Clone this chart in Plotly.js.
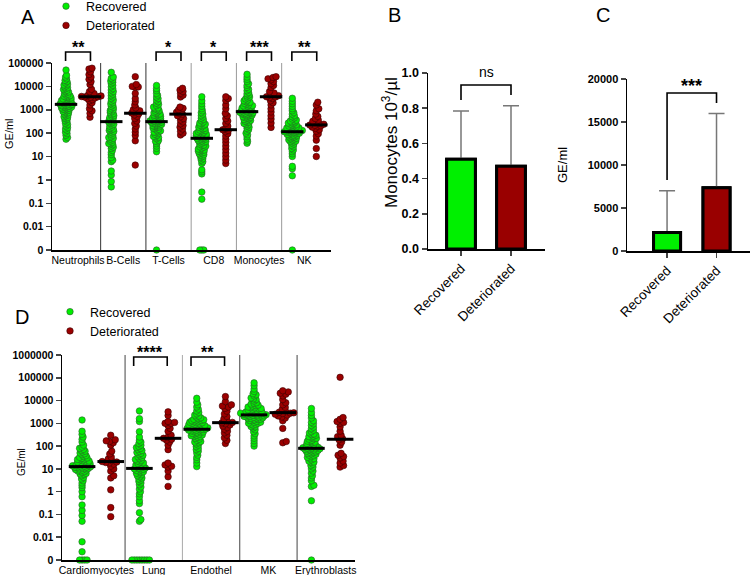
<!DOCTYPE html>
<html><head><meta charset="utf-8">
<script src="https://cdn.plot.ly/plotly-3.0.1.min.js"></script>
<style>html,body{margin:0;padding:0;background:#fff}#chart{width:750px;height:575px}</style>
</head><body><div id="chart"></div>
<script>
// ---------------- DATA ----------------
const seriesNames = ['Recovered', 'Deteriorated'];
const catsA = ['Neutrophils', 'B-Cells', 'T-Cells', 'CD8', 'Monocytes', 'NK'];
const catsD = ['Cardiomyocytes', 'Lung', 'Endothel', 'MK', 'Erythroblasts'];

// Panel A (GE/ml), 0 = below detection
const recNeutrophils = [55,65,80,95,110,130,150,170,200,230,260,300,340,380,420,460,500,550,600,650,700,750,800,850,900,950,1000,1050,1100,1150,1200,1250,1300,1350,1400,1450,1500,1550,1600,1650,1700,1750,1800,1900,2000,2100,2200,2300,2400,2500,2600,2700,2800,2900,3000,3200,3400,3600,3800,4000,4300,4600,5000,5400,5800,6300,6800,7400,8000,8700,9500,10500,11500,12500,14000,16000,18000,21000,25000,30000,50000];
const detNeutrophils = [480,700,900,1100,1600,2000,2400,2700,3000,3200,3400,3500,3600,3700,3900,4200,4600,5000,6000,7500,12000,16000,20000,25000,32000,42000,55000,60000];
const recBCells = [0.5,0.85,1.6,2.4,6,7,9,12,15,18,22,25,28,32,35,36,40,45,50,55,60,65,70,80,90,100,110,120,130,140,150,160,180,200,220,240,260,280,300,320,340,370,400,430,470,510,560,620,680,750,830,920,1000,1100,1250,1400,1600,1800,2000,2300,2600,3000,3500,4000,4600,5300,6000,7000,8000,9500,11000,13000,15000,17000,19000,22000,25000,40000];
const detBCells = [4.3,47,80,110,150,200,260,330,420,520,600,680,720,800,900,1000,1200,1600,2200,3000,5000,9000,9500,10000,12000,26000];
const recTCells = [0,16,22,28,35,42,45,50,58,65,70,72,80,88,95,105,110,115,125,135,145,155,165,175,185,195,205,215,225,235,245,255,265,275,285,295,305,315,325,335,345,360,375,390,405,420,440,460,480,500,530,560,590,620,660,700,750,800,860,920,1000,1100,1200,1300,1500,1700,1900,2200,2600,3000,3500,4200,5000,6500,8000,11000];
const detTCells = [83,100,120,150,180,210,250,300,360,420,500,560,640,700,780,880,1000,1150,1300,3500,4200,5000,6000,7000,8300];
const recCD8 = [0,0,0,0.15,0.3,1.8,2.2,2.7,5,6,7,8,9,10,11,12,13,14,15,16,17,18,19,20,21,23,25,26,28,30,31,34,37,40,42,44,46,48,52,54,56,58,60,64,68,70,72,75,77,80,83,86,90,93,97,105,110,115,125,130,135,150,160,165,180,200,210,220,240,260,270,300,340,380,430,490,560,650,750,900,1100,1400,1800,2400,3600];
const detCD8 = [5,7,10,14,20,28,40,55,75,95,115,130,140,160,200,260,330,420,550,700,1100,1600,2500,3000,3600];
const recMonocytes = [37,45,55,70,85,100,120,140,160,180,200,230,240,260,290,300,320,350,360,380,410,440,460,470,500,530,560,580,590,620,650,680,700,710,740,760,770,800,830,860,900,940,980,1020,1070,1120,1150,1180,1250,1320,1400,1450,1500,1600,1700,1850,2000,2100,2200,2400,2600,2900,3200,3500,3900,4300,4800,5500,6500,7500,9000,11000,13000,16000,20000,25000,33000];
const detMonocytes = [175,270,400,550,800,1100,1600,2000,2400,3000,3300,3500,3600,4000,4600,5200,6000,9000,11000,13000,16000,19000,21000,24000,26000];
const recNK = [0,1.5,3.0,3.8,10,13,16,19,22,26,30,34,38,42,44,46,50,52,55,58,60,65,68,70,75,78,80,85,88,90,95,98,100,105,108,110,113,115,118,120,122,125,128,130,135,140,145,150,155,160,165,170,180,185,195,200,210,225,230,240,260,270,280,300,320,330,360,400,450,500,560,650,750,900,1100,1400,1800,2300,3100];
const detNK = [10,22,50,75,95,120,140,160,180,195,205,215,220,240,260,290,320,360,420,520,650,900,1100,1600,2100];
const medianRecA = [1700, 310, 310, 60, 830, 115];
const medianDetA = [3600, 710, 650, 140, 3600, 225];

// Panel D (GE/ml)
const recCardio = [0,0,0,0,0.0023,0.0063,0.05,0.09,0.15,0.26,0.6,1.0,1.5,1.9,2.4,3.0,3.6,4.2,5,5.6,6,6.3,7,7.6,8,8.2,8.8,9,9.4,10,10.3,10.6,11.2,11.5,11.8,12,12.4,13,13.3,13.7,14,14.4,15.2,16,16.5,17,18,18.5,19,20,21.5,22,23,25,26,27,29,30,32,35,38,42,46,50,55,60,66,72,80,90,110,150,200,250,330,450,1400];
const detCardio = [0.08,0.2,1.2,4,5,8,10,13,16,18,19,20,21,23,27,33,45,60,110,140,160,170,190,300];
const recLung = [0,0,0,0,0,0,0,0,0.05,0.06,0.12,0.3,0.4,0.6,0.8,1.0,1.3,1.6,2.0,2.4,2.8,3.2,3.6,4.0,4.5,5,5.5,6,6.5,7,7.5,8,8.5,9,9.5,10,10.5,11,11.5,12,13,14,15,16,17,18.5,20,22,24,26,28,31,34,37,40,44,48,53,58,64,70,78,86,95,110,130,150,180,250,430,1200,1600,3500];
const detLung = [1.7,4.5,8,12,13,15,18,70,110,150,180,200,220,250,300,450,600,800,1000,1000,1100,1200,2200,3200];
const recEndothel = [12.6,18,25,32,40,50,60,70,80,95,110,125,140,150,160,180,200,220,240,260,270,285,300,310,335,350,360,385,410,420,435,460,470,490,500,520,530,550,560,580,600,610,640,680,700,720,760,780,800,850,870,900,950,1000,1060,1100,1120,1180,1250,1300,1320,1400,1450,1500,1600,1750,1900,2100,2300,2600,3000,3500,4200,5200,6500,8500,12600];
const detEndothel = [130,180,230,300,380,450,550,650,750,850,950,1050,1100,1300,1600,2000,2600,3400,4500,5200,5800,6500,9000,15000];
const recMK = [100,130,170,220,280,350,430,520,620,700,720,820,900,920,1000,1020,1100,1120,1220,1300,1320,1420,1500,1520,1600,1620,1700,1720,1820,1900,1920,2000,2020,2100,2120,2220,2250,2300,2350,2400,2450,2500,2550,2600,2700,2750,2800,2950,3000,3100,3200,3300,3400,3500,3700,3800,3900,4200,4400,4500,4800,5000,5200,5700,6000,6300,7000,7500,8000,9500,11000,12000,13000,16000,18000,20000,25000,32000,45000,60000];
const detMK = [140,160,600,1300,1700,1900,2100,2300,2500,2700,2800,2900,3100,3500,4200,5000,6500,8000,11000,16000,19000,21000,24000,27000];
const recEry = [0,0.4,1.7,1.9,3,4,5,6.5,8,10,12,14,16,19,20,22,25,28,30,32,36,38,40,44,46,48,52,54,56,60,62,64,68,70,72,76,78,80,83,85,88,90,95,100,105,110,120,125,130,140,150,160,165,180,200,210,220,240,260,270,300,320,340,380,430,500,580,680,800,950,1100,1300,1700,2200,3000,4500];
const detEry = [12,14,18,22,30,35,40,48,110,150,190,210,260,300,450,700,1000,1100,1200,1500,1800,105000];
const medianRecD = [12.6, 10.5, 550, 2350, 80];
const medianDetD = [21, 220, 1070, 2950, 200];

// Panels B and C (mean + SD)
const monocyteMean = [0.51, 0.47];
const monocyteSD = [0.274, 0.344];
const geMean = [2150, 7350];
const geSD = [4870, 8650];

const tickValsA = [0.001,0.01,0.1,1,10,100,1000,10000,100000];
const tickTextA = ['0','0.01','0.1','1','10','100','1000','10000','100000'];
const tickValsD = [0.001,0.01,0.1,1,10,100,1000,10000,100000,1000000];
const tickTextD = ['0','0.01','0.1','1','10','100','1000','10000','100000','1000000'];

// ---------------- SETUP ----------------
const W = 750, H = 575;
const FONT = '"Liberation Sans", Arial, Helvetica, sans-serif';
const ZERO = 0.001; // zero values drawn on the axis floor
const GREEN = '#00ee00', RED = '#9b0000';
const py = p => 1 - p / H;

const domA = {x: [52 / W, 331 / W], y: [1 - 250 / H, 1 - 63 / H]};
const rngAx = [-0.575, 5.59], rngAy = [-3, 5];
const domD = {x: [62 / W, 355 / W], y: [1 - 560 / H, 1 - 355 / H]};
const rngDx = [-0.6, 4.51], rngDy = [-3, 6];

const recA = [recNeutrophils, recBCells, recTCells, recCD8, recMonocytes, recNK];
const detA = [detNeutrophils, detBCells, detTCells, detCD8, detMonocytes, detNK];
const recD = [recCardio, recLung, recEndothel, recMK, recEry];
const detD = [detCardio, detLung, detEndothel, detMK, detEry];

// deterministic beeswarm offsets (pixel space -> axis units)
function swarmX(values, pos, pxUnit, pxDec, diam) {
  const pts = values.map((v, i) => ({i, y: Math.log10(v > 0 ? v : ZERO) * pxDec}));
  const order = pts.slice().sort((a, b) => a.y - b.y);
  const placed = [];
  const xs = new Array(values.length);
  for (const p of order) {
    let best = 0;
    for (let k = 0; k < 400; k++) {
      const off = (k % 2 === 1 ? 1 : -1) * Math.ceil(k / 2) * 0.5;
      let ok = true;
      for (const q of placed) {
        const dy = p.y - q.y;
        if (Math.abs(dy) >= diam) continue;
        const dx = off - q.x;
        if (dx * dx + dy * dy < diam * diam) { ok = false; break; }
      }
      if (ok) { best = off; break; }
    }
    placed.push({x: best, y: p.y});
    xs[p.i] = pos + best / pxUnit;
  }
  return xs;
}

const traces = [];
function addSwarmPanel(recs, dets, medR, medD, dom, rx, ry, xa, ya, legendId, off, diams, medSize) {
  const pxUnit = (dom.x[1] - dom.x[0]) * W / (rx[1] - rx[0]);
  const pxDec = (dom.y[1] - dom.y[0]) * H / (ry[1] - ry[0]);
  [recs, dets].forEach((groups, s) => {
    groups.forEach((vals, k) => {
      const pos = k + (s === 0 ? -off : off);
      traces.push({
        type: 'scatter', mode: 'markers', xaxis: xa, yaxis: ya,
        x: swarmX(vals, pos, pxUnit, pxDec, diams[s]),
        y: vals.map(v => v > 0 ? v : ZERO),
        name: seriesNames[s], legend: legendId,
        showlegend: k === 0, cliponaxis: false,
        marker: {size: 6.5, color: s === 0 ? GREEN : RED,
                 line: {width: 0.6, color: s === 0 ? '#2d5a2d' : '#3a0000'}}
      });
    });
  });
  [medR, medD].forEach((meds, s) => {
    traces.push({
      type: 'scatter', mode: 'markers', xaxis: xa, yaxis: ya, showlegend: false, cliponaxis: false,
      x: meds.map((m, k) => k + (s === 0 ? -off : off)), y: meds,
      marker: {symbol: 'line-ew', size: medSize, color: '#000', line: {width: 3, color: '#000'}}
    });
  });
}
addSwarmPanel(recA, detA, medianRecA, medianDetA, domA, rngAx, rngAy, 'x', 'y', 'legend', 0.265, [2.0, 3.0], 16);
addSwarmPanel(recD, detD, medianRecD, medianDetD, domD, rngDx, rngDy, 'x4', 'y4', 'legend2', 0.25, [2.3, 3.4], 19);

// bars: first trace carries the SD whiskers, second (identical bars) is drawn on top so its outline covers the whisker foot
const barSpecs = [
  {xa: 'x2', ya: 'y2', y: monocyteMean, sd: monocyteSD, w: 0.575},
  {xa: 'x3', ya: 'y3', y: geMean, sd: geSD, w: 0.546}
];
barSpecs.forEach(b => {
  traces.push({
    type: 'bar', xaxis: b.xa, yaxis: b.ya, x: [0, 1], y: b.y, width: b.w, showlegend: false,
    marker: {color: ['#00f000', '#990000'], line: {color: '#000', width: 3}},
    error_y: {type: 'data', symmetric: false, array: b.sd, arrayminus: [0, 0], color: '#777', thickness: 1.5, width: 8}
  });
  traces.push({
    type: 'bar', xaxis: b.xa, yaxis: b.ya, x: [0, 1], y: b.y, width: b.w, showlegend: false,
    marker: {color: ['#00f000', '#990000'], line: {color: '#000', width: 3}}
  });
});

// ---------------- SHAPES & ANNOTATIONS ----------------
const shapes = [];
const sepColorsA = ['#333', '#333', '#999', '#999', '#999'];
for (let k = 0; k < catsA.length - 1; k++) {
  shapes.push({type: 'line', xref: 'x', yref: 'y domain', x0: k + 0.5, x1: k + 0.5, y0: 0, y1: 1,
    line: {color: sepColorsA[k], width: 1}, layer: 'below'});
}
const sepColorsD = ['#444', '#aaa', '#444', '#444'];
for (let k = 0; k < catsD.length - 1; k++) {
  shapes.push({type: 'line', xref: 'x4', yref: 'y4 domain', x0: k + 0.5, x1: k + 0.5, y0: 0, y1: 1,
    line: {color: sepColorsD[k], width: 1}, layer: 'below'});
}
function bracket(xref, xl, xr, yTop, yL, yR) {
  shapes.push({type: 'path', xref: xref, yref: 'paper',
    path: `M ${xl},${py(yL)} L ${xl},${py(yTop)} L ${xr},${py(yTop)} L ${xr},${py(yR)}`,
    line: {color: '#000', width: 1.6}});
}
const annotations = [];
function txt(text, x, y, size, opts) {
  annotations.push(Object.assign({text: text, x: x, y: y, xref: 'paper', yref: 'paper', showarrow: false,
    xanchor: 'center', yanchor: 'middle', font: {family: FONT, size: size, color: '#000'}}, opts || {}));
}
const starsA = [[0, '**'], [2, '*'], [3, '*'], [4, '***'], [5, '**']];
starsA.forEach(([k, s]) => {
  bracket('x', k - 0.275, k + 0.275, 52, 61, 61);
  txt(s, k, py(47.5), 16, {xref: 'x', font: {family: FONT, size: 16, color: '#000', weight: 'bold'}});
});
const starsD = [[1, '****'], [2, '**']];
starsD.forEach(([k, s]) => {
  bracket('x4', k - 0.35, k + 0.235, 357, 366, 366);
  txt(s, k - 0.06, py(352.5), 16, {xref: 'x4', font: {family: FONT, size: 16, color: '#000', weight: 'bold'}});
});
// B bracket
shapes.push({type: 'path', xref: 'x2', yref: 'paper',
  path: `M 0,${py(100)} L 0,${py(85)} L 1,${py(85)} L 1,${py(95)}`, line: {color: '#000', width: 1.6}});
txt('ns', 0.5, py(72), 14, {xref: 'x2'});
// C bracket
shapes.push({type: 'path', xref: 'x3', yref: 'paper',
  path: `M 0,${py(180)} L 0,${py(93)} L 1,${py(93)} L 1,${py(103)}`, line: {color: '#000', width: 1.6}});
txt('***', 0.5, py(86.5), 18, {xref: 'x3', font: {family: FONT, size: 18, color: '#000', weight: 'bold'}});

// panel letters
txt('A', 28 / W, py(17), 20);
txt('B', 394 / W, py(15), 20);
txt('C', 603 / W, py(15), 20);
txt('D', 22 / W, py(317), 20);
// axis titles
txt('GE/ml', 9 / W, py(134), 11, {textangle: -90});
txt('GE/ml', 21 / W, py(462), 10, {textangle: -90});
txt('Monocytes 10<sup>3</sup>/µl', 390 / W, py(143), 17, {textangle: -90});
txt('GE/ml', 562 / W, py(165), 13, {textangle: -90});

// ---------------- LAYOUT ----------------
const axLine = {showline: true, linecolor: '#000', linewidth: 1.5, showgrid: false, zeroline: false, fixedrange: true};
const tickBold = s => ({family: FONT, size: s, color: '#000', weight: 'bold'});
const tickReg = s => ({family: FONT, size: s, color: '#000'});

const layout = {
  width: W, height: H, margin: {l: 0, r: 0, t: 0, b: 0, autoexpand: false},
  paper_bgcolor: '#fff', plot_bgcolor: 'rgba(0,0,0,0)',
  font: {family: FONT, color: '#000'},
  showlegend: true, barmode: 'overlay',
  legend: {x: 46 / W, xanchor: 'left', y: 1 + 8.5 / H, yanchor: 'top', font: {family: FONT, size: 12.5, color: '#000'},
    bgcolor: 'rgba(0,0,0,0)', borderwidth: 0, tracegroupgap: 0},
  legend2: {x: 50 / W, xanchor: 'left', y: py(297), yanchor: 'top', font: {family: FONT, size: 12.5, color: '#000'},
    bgcolor: 'rgba(0,0,0,0)', borderwidth: 0, tracegroupgap: 0},
  xaxis: Object.assign({}, axLine, {domain: domA.x, range: rngAx, anchor: 'y', ticks: '', tickangle: 0,
    tickvals: catsA.map((c, i) => i), ticktext: catsA, tickfont: tickReg(10.5)}),
  yaxis: Object.assign({}, axLine, {domain: domA.y, type: 'log', range: rngAy, anchor: 'x', ticks: 'outside',
    ticklen: 5, tickwidth: 1.5, tickvals: tickValsA, ticktext: tickTextA, tickfont: tickBold(10.5)}),
  xaxis2: Object.assign({}, axLine, {domain: [428 / W, 545 / W], range: [-0.66, 1.68], anchor: 'y2', ticks: 'outside',
    ticklen: 5, tickwidth: 1.5, tickvals: [0, 1], ticktext: seriesNames, tickangle: -45, tickfont: tickReg(13.5)}),
  yaxis2: Object.assign({}, axLine, {domain: [1 - 249 / H, 1 - 73 / H], range: [0, 1], anchor: 'x2', ticks: 'outside',
    ticklen: 5, tickwidth: 1.5, dtick: 0.2, tickformat: '.1f', tickfont: tickBold(12.5)}),
  xaxis3: Object.assign({}, axLine, {domain: [627 / W, 1], range: [-0.81, 1.677], anchor: 'y3', ticks: 'outside',
    ticklen: 5, tickwidth: 1.5, tickvals: [0, 1], ticktext: seriesNames, tickangle: -45, tickfont: tickReg(13.5)}),
  yaxis3: Object.assign({}, axLine, {domain: [1 - 251 / H, 1 - 79 / H], range: [0, 20000], anchor: 'x3', ticks: 'outside',
    ticklen: 5, tickwidth: 1.5, dtick: 5000, tickformat: 'd', tickfont: tickBold(11)}),
  xaxis4: Object.assign({}, axLine, {domain: domD.x, range: rngDx, anchor: 'y4', ticks: '', tickangle: 0,
    tickvals: catsD.map((c, i) => i), ticktext: catsD, tickfont: tickReg(10.5)}),
  yaxis4: Object.assign({}, axLine, {domain: domD.y, type: 'log', range: rngDy, anchor: 'x4', ticks: 'outside',
    ticklen: 5, tickwidth: 1.5, tickvals: tickValsD, ticktext: tickTextD, tickfont: tickBold(10.5)}),
  shapes: shapes,
  annotations: annotations
};

Plotly.newPlot('chart', traces, layout, {staticPlot: true, displayModeBar: false});
</script>
</body></html>
